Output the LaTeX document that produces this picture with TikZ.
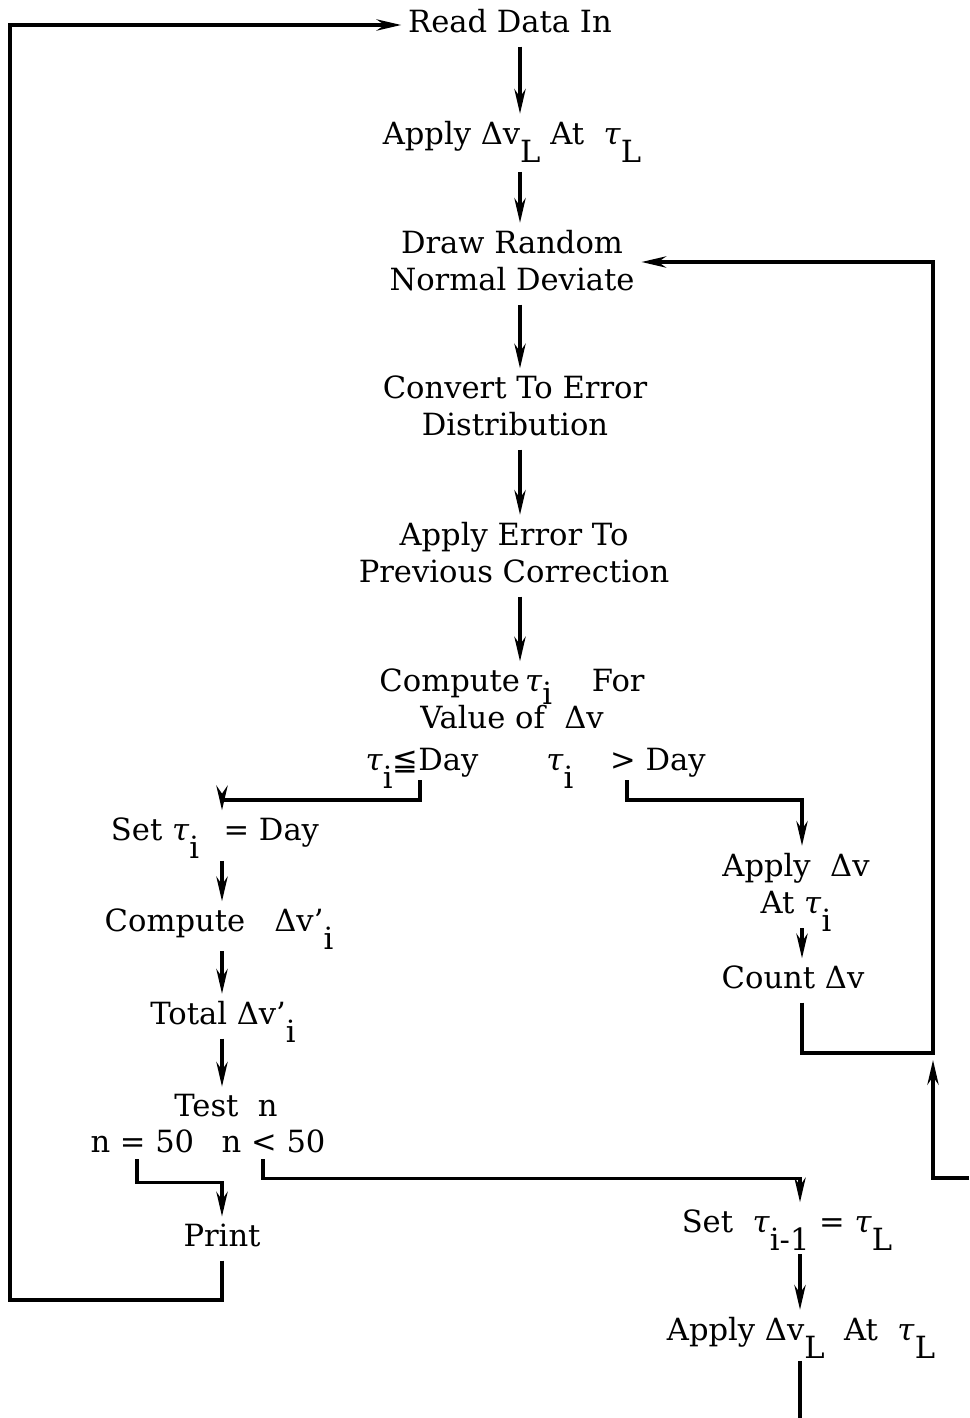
\documentclass[tikz,border=0pt]{standalone}
\usepackage{fontspec}
\setmainfont{DejaVu Serif}
\newfontfamily\symfont{DejaVu Sans}
\usetikzlibrary{arrows.meta,calc}
% lowered index, kept out of the line height
\newcommand{\dnz}[1]{\raisebox{-0.6em}[0pt][0pt]{#1}}
\newcommand{\tu}{\textit{τ}}

\begin{document}
\begin{tikzpicture}[x=0.01cm,y=-0.01cm,line join=miter,
  txt/.style={inner sep=0pt,outer sep=0pt,anchor=base,align=center,
    font=\fontsize{8.7}{10.5}\selectfont},
  flow/.style={line width=1pt,shorten <=4pt},
  arr/.style={flow,shorten >=2pt,-{Stealth[length=7pt,width=3.2pt]}}]
\useasboundingbox (0,0) rectangle (969,1418);

% main column (base = last line)
\node[txt] (read) at (510,32) {Read Data In};
\node[txt] (applyL) at (512,144) {Apply Δv\dnz{L} At \ \tu\dnz{L}};
\node[txt] (draw) at (512,290) {Draw Random\\Normal Deviate};
\node[txt] (conv) at (515,435) {Convert To Error\\Distribution};
\node[txt] (err) at (514,582) {Apply Error To\\Previous Correction};
\node[txt] (comp) at (512,728) {Compute\,\tu\raisebox{-0.45em}[0pt][0pt]{i}\hspace{1.3em}For\\Value of \ Δv};
\node[txt] (le) at (422,770) {\tu\dnz{i}{\symfont ≦}Day};
\node[txt] (gt) at (626,770) {\tu\dnz{i}\hspace{1.2em}> Day};

% left branch
\node[txt] (seti) at (215,840) {Set \tu\dnz{i}\hspace{0.8em}= Day};
\node[txt] (cdv) at (219,931) {Compute \ \ Δv'\dnz{i}};
\node[txt] (total) at (223,1024) {Total Δv'\dnz{i}};
\node[txt] (test) at (226,1116) {Test \ n};
\node[txt] (cond) at (208,1152) {n = 50\hspace{0.9em}n < 50};
\node[txt] (print) at (222,1246) {Print};

% right branch
\node[txt] (appi) at (796,913) {Apply \ Δv\\At \tu\dnz{i}};
\node[txt] (count) at (793,988) {Count Δv};
\node[txt] (setL) at (787,1232) {Set \ \tu\dnz{i-1} = \tu\dnz{L}};
\node[txt] (appL2) at (801,1340) {Apply Δv\dnz{L} \ At \ \tu\dnz{L}};

\coordinate (spine) at (520,0);
\coordinate (colI) at (222,0);
\coordinate (colR) at (802,0);
\coordinate (colL) at (800,0);
\coordinate (eqx) at (137,0);
\coordinate (ltx) at (263,0);
\coordinate (leout) at (420,780);
\coordinate (gtout) at (627,780);
\coordinate (rjoin) at (933,1053);
\coordinate (rtop) at (933,262);
\coordinate (rin) at (969,1178);
\coordinate (lbot) at (10,1300);
\coordinate (ltop) at (10,25);
\coordinate (bot) at (800,1418);

\foreach \a/\b in {read/applyL,draw/conv,conv/err,err/comp}
  \draw[arr] (\a.south -| spine) -- (\b.north -| spine);
\draw[arr,shorten <=6pt] (applyL.south -| spine) -- (draw.north -| spine);

\draw[arr,shorten <=0pt] (leout) -- ++(0,20) -| (seti.north -| colI);
\draw[arr,shorten <=0pt] (gtout) -- ++(0,20) -| (appi.north -| colR);

\foreach \a/\b in {seti/cdv,cdv/total,total/test}
  \draw[arr] (\a.south -| colI) -- (\b.north -| colI);

\draw[arr] (appi.south -| colR) -- (count.north -| colR);
\draw[arr] (count.south -| colR) |- (rjoin) -- (rtop) -- (rtop -| draw.east);
\draw[arr,shorten <=0pt] (rin) -| (rjoin);

\draw[arr,shorten <=2pt] (cond.south -| eqx) -- ++(0,30) -| (print.north);
\draw[arr,shorten <=2pt] (cond.south -| ltx) -- ++(0,26) -| (setL.north -| colL);
\draw[arr,shorten <=6pt] (setL.south -| colL) -- (appL2.north -| colL);
\draw[flow] (appL2.south -| colL) -- (bot);

\draw[arr] (print.south) |- (lbot) -- (ltop) -- (ltop -| read.west);
\end{tikzpicture}
\end{document}
